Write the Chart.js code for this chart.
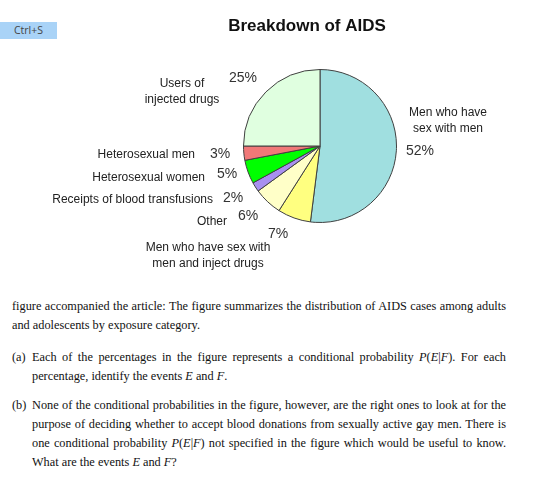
<!DOCTYPE html>
<html>
<head>
<meta charset="utf-8">
<script src="https://cdn.jsdelivr.net/npm/chart.js@4/dist/chart.umd.min.js"></script>
<style>
  body { margin: 0; background: #fff; width: 560px; height: 481px; overflow: hidden; position: relative; }
  #chartBox { position: absolute; left: 0; top: 0; width: 560px; height: 285px; }
  .key { position: absolute; left: 0; top: 22px; width: 57px; height: 17px; background: #a9d3f7;
         font: 10.5px "Open Sans", sans-serif; color: #444; text-align: center; line-height: 17px; }
  .ln { position: absolute; font: 12.3px "Liberation Serif", serif; color: #111; white-space: nowrap; }
  i { font-style: italic; }
</style>
</head>
<body>
<div class="key">Ctrl+S</div>
<div id="chartBox"><canvas id="myChart" width="560" height="285"></canvas></div>

<div class="ln full" data-w="494" style="left:12px; top:299px;">figure accompanied the article: The figure summarizes the distribution of AIDS cases among adults</div>
<div class="ln" style="left:12px; top:318px;">and adolescents by exposure category.</div>

<div class="ln" style="left:12px; top:350px;">(a)</div>
<div class="ln full" data-w="474" style="left:32px; top:350px;">Each of the percentages in the figure represents a conditional probability <i>P</i>(<i>E</i>|<i>F</i>). For each</div>
<div class="ln" style="left:32px; top:369px;">percentage, identify the events <i>E</i> and <i>F</i>.</div>

<div class="ln" style="left:12px; top:398px;">(b)</div>
<div class="ln full" data-w="474" style="left:32px; top:398px;">None of the conditional probabilities in the figure, however, are the right ones to look at for the</div>
<div class="ln full" data-w="474" style="left:32px; top:417px;">purpose of deciding whether to accept blood donations from sexually active gay men. There is</div>
<div class="ln full" data-w="474" style="left:32px; top:436px;">one conditional probability <i>P</i>(<i>E</i>|<i>F</i>) not specified in the figure which would be useful to know.</div>
<div class="ln" style="left:32px; top:455px;">What are the events <i>E</i> and <i>F</i>?</div>

<script>
// stretch the full lines of the paragraph to the column width
document.querySelectorAll(".ln.full").forEach((el) => {
    const target = parseFloat(el.dataset.w);
    const gaps = el.textContent.split(" ").length - 1;
    const extra = (target - el.getBoundingClientRect().width) / gaps;
    el.style.wordSpacing = extra + "px";
});

const categories = [
    ["Men who have", "sex with men"],
    ["Men who have sex with", "men and inject drugs"],
    ["Other"],
    ["Receipts of blood transfusions"],
    ["Heterosexual women"],
    ["Heterosexual men"],
    ["Users of", "injected drugs"]
];
const percentValues = [52, 7, 6, 2, 5, 3, 25];
const sliceColors = ["#a0dfe0", "#ffff80", "#ffffc8", "#a890f0", "#00ff00", "#f07878", "#e0ffe0"];

// where each label goes: [text x, text y, align, pct x, pct y, pct align]
const labelSpots = [
    [448, 113, "center", 406, 151, "left"],
    [208, 248, "center", 278, 234, "center"],
    [227, 222, "right", 248, 216, "center"],
    [213, 200, "right", 233, 198, "center"],
    [205, 178, "right", 227, 174, "center"],
    [195, 155, "right", 220, 154, "center"],
    [182, 84, "center", 243, 78, "center"]
];

const labelPlugin = {
    id: "labelPlugin",
    afterDraw: (chart) => {
        const ctx = chart.ctx;
        ctx.save();
        ctx.fillStyle = "#111";
        ctx.font = "bold 17px 'Liberation Sans', Arial, sans-serif";
        ctx.textAlign = "center";
        ctx.textBaseline = "middle";
        ctx.fillText("Breakdown of AIDS", 307, 26);

        categories.forEach((lines, i) => {
            const spot = labelSpots[i];
            ctx.font = "12px 'Liberation Sans', Arial, sans-serif";
            ctx.fillStyle = "#222";
            ctx.textAlign = spot[2];
            lines.forEach((t, j) => ctx.fillText(t, spot[0], spot[1] + j * 16));
            ctx.font = "14px 'Liberation Sans', Arial, sans-serif";
            ctx.fillStyle = "#333";
            ctx.textAlign = spot[5];
            ctx.fillText(percentValues[i] + "%", spot[3], spot[4]);
        });
        ctx.restore();
    }
};

const ctx = document.getElementById("myChart").getContext("2d");
const myChart = new Chart(ctx, {
    type: "pie",
    data: {
        labels: categories.map(c => c.join(" ")),
        datasets: [{
            data: percentValues,
            backgroundColor: sliceColors,
            borderColor: "#404040",
            borderWidth: 1
        }]
    },
    options: {
        responsive: false,
        animation: false,
        layout: { padding: { left: 243, right: 163, top: 69, bottom: 62 } },
        plugins: {
            legend: { display: false },
            tooltip: { enabled: false }
        }
    },
    plugins: [labelPlugin]
});
</script>
</body>
</html>
